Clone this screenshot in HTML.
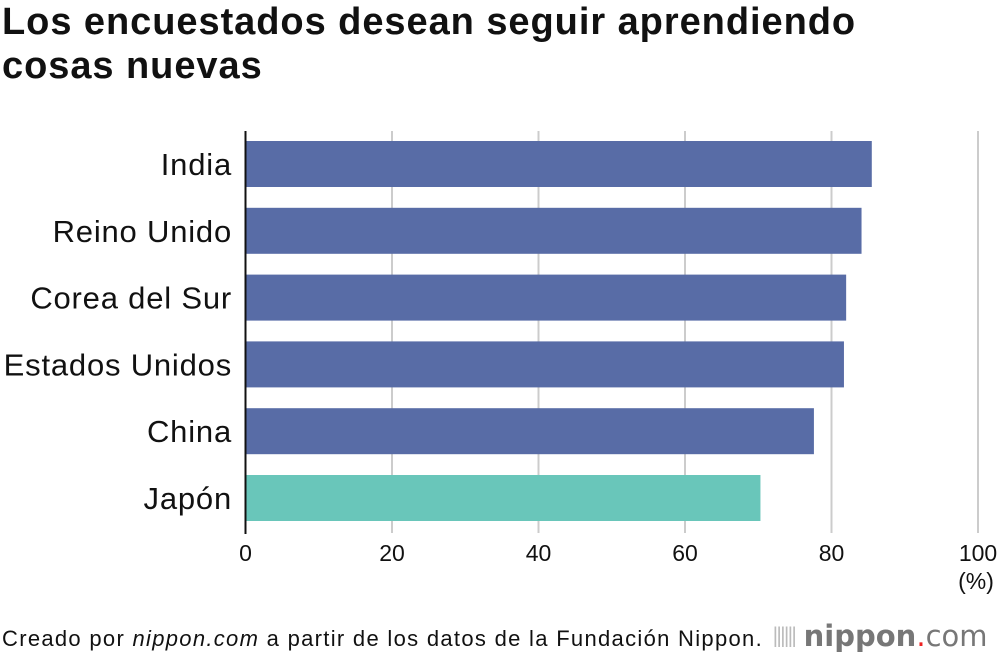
<!DOCTYPE html>
<html><head><meta charset="utf-8"><style>
body{margin:0;background:#fff;width:1000px;height:660px;overflow:hidden;font-family:"Liberation Sans",sans-serif}
#title{position:absolute;left:2px;top:0px;font-size:38px;font-weight:bold;line-height:44px;color:#111;letter-spacing:0.95px;white-space:nowrap}
#src{position:absolute;left:2px;top:626px;font-size:22px;color:#111;white-space:nowrap;letter-spacing:1.3px}
#logo{position:absolute;left:772px;top:617px;font-size:29px;color:#777;font-family:"DejaVu Sans",sans-serif;white-space:nowrap;line-height:36px}
</style></head><body>
<div id="title">Los encuestados desean seguir aprendiendo<br>cosas nuevas</div>
<svg id="chart" width="1000" height="660" style="position:absolute;left:0;top:0"></svg>
<div id="src">Creado por <i>nippon.com</i> a partir de los datos de la Fundación Nippon.</div>
<div id="logo"><span style="font-size:20px;letter-spacing:-3px;color:#bbb;vertical-align:4px">||||||</span> <b style="font-weight:600">nippon</b><span style="color:#e22">.</span>com</div>
<script>
const categories=["India","Reino Unido","Corea del Sur","Estados Unidos","China","Japón"];
const values=[85.5,84.1,82.0,81.7,77.6,70.3];
const ticks=[0,20,40,60,80,100];
const svg=document.getElementById('chart');
const NS='http://www.w3.org/2000/svg';
const x0=245.5,x1=978,top0=141,pitch=66.8,bh=46;
const xs=v=>x0+(x1-x0)*v/100;
function mk(t,a){const e=document.createElementNS(NS,t);for(const k in a)e.setAttribute(k,a[k]);svg.appendChild(e);return e;}
ticks.forEach(t=>{
  if(t>0){const g=mk('line',{x1:xs(t),x2:xs(t),y1:131,y2:533,stroke:'#ccc','stroke-width':2});
  
  }
  const tx=mk('text',{x:xs(t),y:561,'text-anchor':'middle','font-size':23,fill:'#111','font-family':'Liberation Sans, sans-serif'});
  tx.textContent=t;
  
  
});
const pu=mk('text',{x:xs(100)-2,y:589,'text-anchor':'middle','font-size':23,fill:'#111','font-family':'Liberation Sans, sans-serif'});
pu.textContent='(%)';


categories.forEach((c,i)=>{
  const y=top0+i*pitch;
  const r=mk('rect',{x:x0,y:y,width:xs(values[i])-x0,height:bh,fill:c==='Japón'?'#69c6ba':'#586ca6'});
  
  
  const l=mk('text',{x:232,y:y+bh/2+11,'text-anchor':'end','font-size':31,'letter-spacing':0.8,fill:'#111','font-family':'Liberation Sans, sans-serif'});
  l.textContent=c;
  
  
});
const ax=mk('line',{x1:x0,x2:x0,y1:131,y2:534,stroke:'#111','stroke-width':2});


</script>
</body></html>
